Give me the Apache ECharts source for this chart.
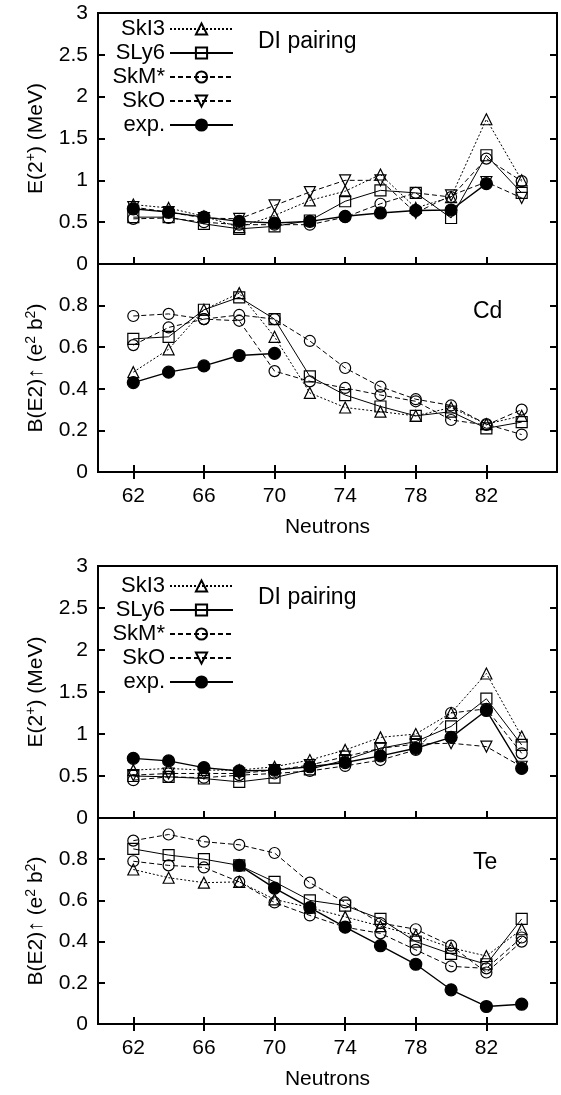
<!DOCTYPE html>
<html>
<head>
<meta charset="utf-8">
<script src="https://cdn.jsdelivr.net/npm/echarts@6/dist/echarts.min.js"></script>
<style>
html, body { margin: 0; padding: 0; background: #fff; }
#chart { width: 561px; height: 1095px; }
</style>
</head>
<body>
<div id="chart"></div>
<script>
// neutron numbers (x) and the labelled ticks
var neutrons = [62, 64, 66, 68, 70, 72, 74, 76, 78, 80, 82, 84];
var neutronTicks = [62, 66, 70, 74, 78, 82];
var modelNames = ["SkI3", "SLy6", "SkM*", "SkO", "exp."];

// Cd, E(2+) in MeV
var cdE_SkI3 = [0.71, 0.67, 0.57, 0.44, 0.58, 0.76, 0.87, 1.07, 0.67, 0.80, 1.73, 1.00];
var cdE_SLy6 = [0.56, 0.56, 0.48, 0.42, 0.45, 0.52, 0.75, 0.88, 0.85, 0.55, 1.30, 0.85];
var cdE_SkMs = [0.54, 0.55, 0.50, 0.47, 0.47, 0.47, 0.56, 0.72, 0.85, 0.80, 1.26, 0.99];
var cdE_SkO  = [0.68, 0.62, 0.55, 0.54, 0.70, 0.86, 1.00, 1.00, 0.61, 0.82, 0.98, 0.79];
var cdE_exp  = [0.66, 0.62, 0.56, 0.51, 0.49, 0.51, 0.57, 0.61, 0.64, 0.645, 0.96, null];

// Cd, B(E2) in e2b2
var cdB_SkI3 = [0.48, 0.59, 0.78, 0.86, 0.65, 0.38, 0.31, 0.29, 0.27, 0.31, 0.23, 0.27];
var cdB_SLy6 = [0.64, 0.65, 0.78, 0.84, 0.735, 0.46, 0.37, 0.315, 0.27, 0.29, 0.21, 0.24];
var cdB_SkMs = [0.75, 0.76, 0.735, 0.755, 0.735, 0.63, 0.50, 0.41, 0.35, 0.32, 0.23, 0.18];
var cdB_SkO  = [0.61, 0.695, 0.735, 0.727, 0.485, 0.436, 0.404, 0.37, 0.34, 0.25, 0.226, 0.30];
var cdB_exp  = [0.43, 0.48, 0.51, 0.56, 0.57, null, null, null, null, null, null, null];

// Te, E(2+) in MeV
var teE_SkI3 = [0.57, 0.59, 0.57, 0.57, 0.61, 0.69, 0.81, 0.96, 1.00, 1.25, 1.72, 0.97];
var teE_SLy6 = [0.50, 0.49, 0.47, 0.43, 0.48, 0.58, 0.69, 0.83, 0.91, 1.09, 1.42, 0.87];
var teE_SkMs = [0.45, 0.49, 0.48, 0.51, 0.53, 0.56, 0.62, 0.69, 0.81, 1.25, 1.30, 0.77];
var teE_SkO  = [0.51, 0.53, 0.53, 0.53, 0.57, 0.63, 0.73, 0.83, 0.88, 0.89, 0.85, 0.61];
var teE_exp  = [0.71, 0.68, 0.60, 0.56, 0.57, 0.61, 0.66, 0.74, 0.83, 0.96, 1.28, 0.59];

// Te, B(E2) in e2b2
var teB_SkI3 = [0.75, 0.71, 0.686, 0.69, 0.605, 0.565, 0.52, 0.475, 0.43, 0.37, 0.33, 0.46];
var teB_SLy6 = [0.85, 0.82, 0.80, 0.77, 0.69, 0.60, 0.575, 0.51, 0.40, 0.34, 0.29, 0.51];
var teB_SkMs = [0.89, 0.92, 0.885, 0.87, 0.83, 0.686, 0.59, 0.49, 0.46, 0.38, 0.25, 0.40];
var teB_SkO  = [0.79, 0.77, 0.76, 0.69, 0.59, 0.527, 0.47, 0.44, 0.36, 0.28, 0.27, 0.42];
var teB_exp  = [null, null, null, 0.77, 0.66, 0.565, 0.47, 0.38, 0.29, 0.166, 0.085, 0.096];

var FONT = "Liberation Sans";
var lineTypes = {"SkI3": [2, 2], "SLy6": "solid", "SkM*": [5, 3], "SkO": [5, 3], "exp.": "solid"};
var eSymbols = {"SkI3": "triangle", "SLy6": "rect", "SkM*": "circle", "SkO": "triangle", "exp.": "circle"};
var bSymbols = {"SkI3": "triangle", "SLy6": "rect", "SkM*": "circle", "SkO": "circle", "exp.": "circle"};

var panels = [
	{top: 13, height: 251, max: 3, step: 0.5, sets: [cdE_SkI3, cdE_SLy6, cdE_SkMs, cdE_SkO, cdE_exp], symbols: eSymbols},
	{top: 264, height: 208, max: 1, step: 0.2, sets: [cdB_SkI3, cdB_SLy6, cdB_SkMs, cdB_SkO, cdB_exp], symbols: bSymbols},
	{top: 566, height: 252, max: 3, step: 0.5, sets: [teE_SkI3, teE_SLy6, teE_SkMs, teE_SkO, teE_exp], symbols: eSymbols},
	{top: 818, height: 206, max: 1, step: 0.2, sets: [teB_SkI3, teB_SLy6, teB_SkMs, teB_SkO, teB_exp], symbols: bSymbols}
];

var tickStyle = {inside: true, length: 7, lineStyle: {color: "#000", width: 2}};
var axisText = {color: "#000", fontSize: 21, fontFamily: FONT};
var nameRich = {s: {fontSize: 14, fontFamily: FONT, color: "#000", padding: [0, 0, 10, 0]}};

var grids = [], xAxes = [], yAxes = [], series = [];

function IX_extend(base, extra){
	var o = {};
	for (var k in base) o[k] = base[k];
	for (var j in extra) o[j] = extra[j];
	return o;
}

panels.forEach(function(p, g){
	var isB = p.max === 1;
	grids.push({left: 98, right: 4, top: p.top, height: p.height, show: true,
		borderColor: "#000", borderWidth: 2, containLabel: false});

	var xIdx = xAxes.length;
	xAxes.push({
		type: "value", gridIndex: g, min: 60, max: 86, position: "bottom",
		axisLine: {show: false}, splitLine: {show: false},
		axisTick: IX_extend(tickStyle, {customValues: neutronTicks}),
		axisLabel: IX_extend(axisText, {show: isB, margin: 14, customValues: neutronTicks}),
		name: isB ? "Neutrons" : "", nameLocation: "middle", nameGap: 45,
		nameTextStyle: axisText
	});
	if (isB) {
		xAxes.push({
			type: "value", gridIndex: g, min: 60, max: 86, position: "top",
			axisLine: {show: false}, splitLine: {show: false},
			axisTick: IX_extend(tickStyle, {customValues: neutronTicks}),
			axisLabel: {show: false}
		});
	}

	var yIdx = yAxes.length;
	yAxes.push({
		type: "value", gridIndex: g, min: 0, max: p.max, interval: p.step, position: "left",
		axisLine: {show: false}, splitLine: {show: false}, axisTick: tickStyle,
		axisLabel: IX_extend(axisText, {margin: 10, formatter: function(v){
			return (isB && v >= 1) ? "" : String(+v.toFixed(1));
		}}),
		name: isB ? "B(E2)\u2191 (e{s|2} b{s|2})" : "E(2{s|+}) (MeV)",
		nameLocation: "middle", nameGap: 50,
		nameTextStyle: IX_extend(axisText, {rich: nameRich})
	});
	yAxes.push({
		type: "value", gridIndex: g, min: 0, max: p.max, interval: p.step, position: "right",
		axisLine: {show: false}, splitLine: {show: false}, axisTick: tickStyle,
		axisLabel: {show: false}
	});

	modelNames.forEach(function(name, k){
		var isExp = name === "exp.";
		var vals = p.sets[k];
		var pts = [];
		neutrons.forEach(function(n, i){
			if (vals[i] !== null) pts.push([n, vals[i]]);
		});
		series.push({
			name: name, type: "line", xAxisIndex: xIdx, yAxisIndex: yIdx, data: pts,
			symbol: p.symbols[name], symbolSize: isExp ? 12 : 11,
			symbolRotate: (!isB && name === "SkO") ? 180 : 0,
			lineStyle: {color: "#000", width: isExp ? 1.4 : 1, type: lineTypes[name]},
			itemStyle: {color: isExp ? "#000" : "rgba(0,0,0,0)", borderColor: "#000", borderWidth: 1.2},
			z: isExp ? 5 : 3, silent: true
		});
	});
});

function legendAt(top){
	return {
		orient: "vertical", right: 322, top: top, align: "right",
		itemWidth: 63, itemHeight: 14, itemGap: 2, selectedMode: false,
		textStyle: {color: "#000", fontSize: 22, fontFamily: FONT, lineHeight: 18},
		data: modelNames
	};
}

function textAt(text, left, top){
	return {text: text, left: left, top: top, padding: 0,
		textStyle: {color: "#000", fontSize: 23, fontWeight: "normal", fontFamily: FONT}};
}

var chart = echarts.init(document.getElementById("chart"));
chart.setOption({
	animation: false,
	textStyle: {fontFamily: FONT},
	title: [
		textAt("DI pairing", 258, 30),
		textAt("Cd", 473, 300),
		textAt("Te", 473, 851),
		textAt("DI pairing", 258, 586)
	],
	legend: [legendAt(13), legendAt(570)],
	grid: grids,
	xAxis: xAxes,
	yAxis: yAxes,
	series: series
});
</script>
</body>
</html>
